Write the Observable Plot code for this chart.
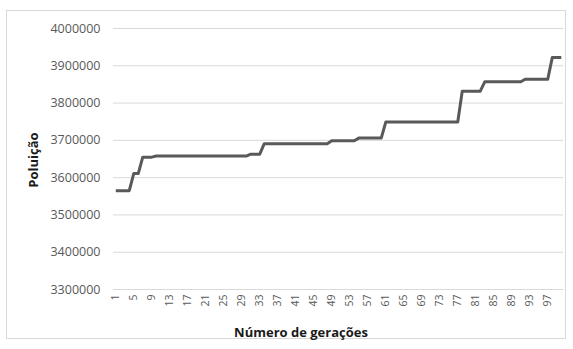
<!DOCTYPE html>
<html><head><meta charset="utf-8">
<script src="https://cdn.jsdelivr.net/npm/d3@7"></script>
<script src="https://cdn.jsdelivr.net/npm/@observablehq/plot@0.6"></script>
<style>
html,body{margin:0;padding:0;background:#fff;}
#wrap{position:relative;width:573px;height:349px;overflow:hidden;font-family:"Open Sans",sans-serif;}
#border{position:absolute;left:6px;top:10px;width:560px;height:329px;border:1px solid #d9d9d9;box-sizing:border-box;}
#chart{position:absolute;left:0;top:0;}
.ttl{position:absolute;font-weight:bold;font-size:13px;color:#1a1a1a;white-space:nowrap;}
#xt{left:301px;top:332px;transform:translate(-50%,-50%);}
#yt{left:33px;top:160px;transform:translate(-50%,-50%) rotate(-90deg);}
</style></head><body>
<div id="wrap"><div id="border"></div><div id="chart"></div>
<div class="ttl" id="xt">Número de gerações</div>
<div class="ttl" id="yt">Poluição</div></div>
<script>
// Pollution value for each generation 1..100
const pollution = [
  3565000, 3565000, 3565000, 3565000,
  3611000, 3611000,
  3655000, 3655000, 3655000,
  3658000, 3658000, 3658000, 3658000, 3658000, 3658000, 3658000, 3658000, 3658000, 3658000,
  3658000, 3658000, 3658000, 3658000, 3658000, 3658000, 3658000, 3658000, 3658000, 3658000, 3658000,
  3663000, 3663000, 3663000,
  3691000, 3691000, 3691000, 3691000, 3691000, 3691000, 3691000, 3691000, 3691000, 3691000,
  3691000, 3691000, 3691000, 3691000, 3691000,
  3699000, 3699000, 3699000, 3699000, 3699000, 3699000,
  3706000, 3706000, 3706000, 3706000, 3706000, 3706000,
  3749000, 3749000, 3749000, 3749000, 3749000, 3749000, 3749000, 3749000, 3749000, 3749000,
  3749000, 3749000, 3749000, 3749000, 3749000, 3749000, 3749000,
  3832000, 3832000, 3832000, 3832000, 3832000,
  3857000, 3857000, 3857000, 3857000, 3857000, 3857000, 3857000, 3857000, 3857000,
  3864000, 3864000, 3864000, 3864000, 3864000, 3864000,
  3922000, 3922000, 3922000
];
const generations = pollution.map((_, i) => i + 1);
const xTickLabels = [1, 5, 9, 13, 17, 21, 25, 29, 33, 37, 41, 45, 49, 53, 57, 61, 65, 69, 73, 77, 81, 85, 89, 93, 97];
const yTickLabels = [3300000, 3400000, 3500000, 3600000, 3700000, 3800000, 3900000, 4000000];

const rows = generations.map((g, i) => ({g, v: pollution[i]}));

const chart = Plot.plot({
  width: 573,
  height: 349,
  marginLeft: 113,
  marginRight: 10,
  marginTop: 28,
  marginBottom: 60,
  style: {fontFamily: "'Open Sans', sans-serif", fontSize: "12.5px", color: "#595959", background: "transparent"},
  x: {domain: [0.5, 100.5], label: null},
  y: {domain: [3300000, 4000000], label: null},
  marks: [
    Plot.gridY(yTickLabels, {stroke: "#d9d9d9", strokeOpacity: 1, strokeWidth: 1}),
    Plot.axisY(yTickLabels, {tickSize: 0, tickPadding: 13, tickFormat: d3.format("d"), fontSize: 12.5, label: null}),
    Plot.axisX(xTickLabels, {tickSize: 0, tickPadding: 5, tickRotate: -90, fontSize: 10.5, label: null}),
    Plot.line(rows, {x: "g", y: "v", stroke: "#595959", strokeWidth: 3, strokeLinejoin: "round", strokeLinecap: "butt"})
  ]
});
document.getElementById("chart").appendChild(chart);
</script>
</body></html>
